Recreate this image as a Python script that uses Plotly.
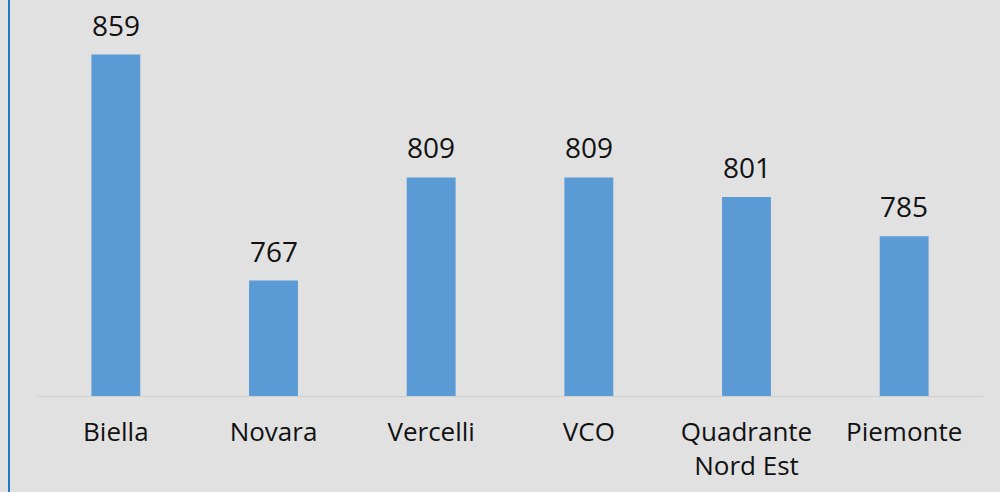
import plotly.graph_objects as go

categories = ["Biella", "Novara", "Vercelli", "VCO", "Quadrante<br>Nord Est", "Piemonte"]
values = [859, 767, 809, 809, 801, 785]

bar_color = "#5b9bd5"
bg = "#e1e1e1"

fig = go.Figure()
fig.add_trace(go.Bar(x=categories, y=values, marker=dict(color=bar_color, line=dict(width=0)),
                     hoverinfo="skip"))

for c, v in zip(categories, values):
    fig.add_annotation(x=c, y=v, text=str(v), showarrow=False, yanchor="bottom", yshift=9,
                       font=dict(family="Open Sans", size=28, color="#111111"))

fig.add_shape(type="line", xref="paper", yref="paper", x0=-0.0296, x1=-0.0296, y0=-0.3, y1=1.1,
              line=dict(color="#1f78c8", width=2))

fig.update_layout(
    width=1000, height=492,
    margin=dict(l=37, r=17, t=3, b=96),
    paper_bgcolor=bg, plot_bgcolor=bg,
    bargap=0.69,
    showlegend=False,
    font=dict(family="Open Sans", size=26, color="#111111"),
)
fig.update_xaxes(showline=True, linecolor="#cfcfcf", linewidth=1, ticks="outside", ticklen=13,
                 tickcolor=bg, showgrid=False, tickfont=dict(size=26))
fig.update_yaxes(range=[720, 880], visible=False, showgrid=False)

fig.write_html("out.html", config={"displayModeBar": False},
               post_script="document.body.style.margin='0';document.body.style.background='#e1e1e1';")
